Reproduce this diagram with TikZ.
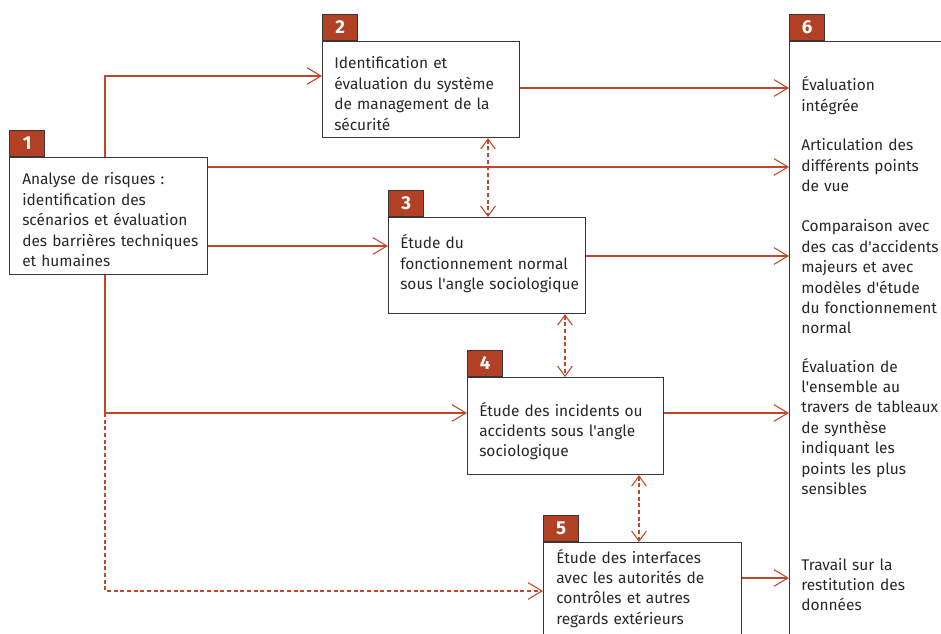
\documentclass[tikz,border=0pt]{standalone}
\usepackage{fontspec}
\setmainfont{Fira Sans}
\usetikzlibrary{arrows.meta,positioning}

\definecolor{tagred}{RGB}{178,64,36}
\definecolor{linered}{RGB}{192,72,42}
\definecolor{boxline}{RGB}{55,55,55}
\definecolor{inktext}{RGB}{40,40,40}

\def\px{0.75pt}
\def\q{\textquotesingle}

\tikzset{
  box/.style={draw=boxline, line width=0.9pt, anchor=north west, inner sep=0pt},
  numtag/.style={draw=boxline, line width=0.9pt, fill=tagred, text=white,
    font=\bfseries\fontsize{14}{14}\selectfont, minimum width=35*\px,
    minimum height=26*\px, inner sep=0pt, anchor=south west},
  txt/.style={anchor=base west, align=left, text width=200*\px, inner sep=0pt,
    text=inktext, font=\fontsize{11.6}{15.3}\selectfont},
  flow/.style={draw=linered, line width=0.8pt,
    -{Straight Barb[length=10.5pt,width=12.5pt]}},
  link/.style={draw=linered, line width=0.8pt, dash pattern=on 3pt off 2pt,
    {Straight Barb[length=7.5pt,width=11pt]}-{Straight Barb[length=7.5pt,width=11pt]}},
}

\begin{document}
\begin{tikzpicture}[x=\px, y=-\px]
        % Fix the frame of the picture
        \useasboundingbox (0,0) rectangle (941,634);
        \clip (0,0) rectangle (941,634);
        \fill[white] (0,0) rectangle (941,634);

        % Draw the boxes
        \node[box, minimum width=198*\px, minimum height=117*\px] (box1) at (9,157) {};
        \node[box, minimum width=197*\px, minimum height=96*\px] (box2) at (322,41) {};
        \node[box, minimum width=197*\px, minimum height=96*\px] (box3) at (388,217) {};
        \node[box, minimum width=196*\px, minimum height=97*\px] (box4) at (467,377) {};
        \node[box, minimum width=198*\px, minimum height=130*\px] (box5) at (543,542) {};
        \node[box, minimum width=300*\px, minimum height=700*\px] (box6) at (789,41) {};

        % Number the boxes
        \node[numtag] (tag1) at (box1.north west) {1};
        \node[numtag] (tag2) at (box2.north west) {2};
        \node[numtag] (tag3) at (box3.north west) {3};
        \node[numtag] (tag4) at (box4.north west) {4};
        \node[numtag] (tag5) at (box5.north west) {5};
        \node[numtag] (tag6) at (box6.north west) {6};

        % Write the texts of the boxes
        \node[txt] (txt1) at ([shift={(13,28)}]box1.north west)
          {Analyse de risques :\\identification des\\sc\'enarios et \'evaluation\\des barri\`eres techniques\\et humaines};
        \node[txt] (txt2) at ([shift={(12,28)}]box2.north west)
          {Identification et\\\'evaluation du syst\`eme\\de management de la\\s\'ecurit\'e};
        \node[txt] (txt3) at ([shift={(12,32)}]box3.north west)
          {\'Etude du\\fonctionnement normal\\sous l\q angle sociologique};
        \node[txt] (txt4) at ([shift={(12,39)}]box4.north west)
          {\'Etude des incidents ou\\accidents sous l\q angle\\sociologique};
        \node[txt] (txt5) at ([shift={(13,21)}]box5.north west)
          {\'Etude des interfaces\\avec les autorit\'es de\\contr\^oles et autres\\regards ext\'erieurs};

        % Write the results in box 6
        \node[txt] (res1) at ([shift={(12,50)}]box6.north west)
          {\'Evaluation\\int\'egr\'ee};
        \node[txt] (res2) at ([shift={(12,110)}]box6.north west)
          {Articulation des\\diff\'erents points\\de vue};
        \node[txt] (res3) at ([shift={(12,191)}]box6.north west)
          {Comparaison avec\\des cas d\q accidents\\majeurs et avec\\mod\`eles d\q\'etude\\du fonctionnement\\normal};
        \node[txt] (res4) at ([shift={(12,331)}]box6.north west)
          {\'Evaluation de\\l\q ensemble au\\travers de tableaux\\de synth\`ese\\indiquant les\\points les plus\\sensibles};
        \node[txt] (res5) at ([shift={(12,529)}]box6.north west)
          {Travail sur la\\restitution des\\donn\'ees};

        % Points where the connectors turn
        \coordinate (up) at (105,76);
        \coordinate (mid) at (105,413);
        \coordinate (bot) at (105,591);
        \coordinate (r0) at (0,88);
        \coordinate (r1) at (0,167);
        \coordinate (r2) at (0,246);
        \coordinate (r3) at (0,256);
        \coordinate (r5) at (0,578);

        % Draw the connectors from box 1
        \draw[flow] (box1.north -| up) -- (up) -- (up -| box2.west);
        \draw[flow] (box1.east |- r1) -- (r1 -| box6.west);
        \draw[flow] (box1.east |- r2) -- (r2 -| box3.west);
        \draw[flow] (box1.south -| mid) -- (mid) -- (mid -| box4.west);
        \draw[flow, dash pattern=on 3pt off 2pt] (mid) -- (bot) -- (bot -| box5.west);

        % Draw the connectors to box 6
        \draw[flow] (box2.east |- r0) -- (r0 -| box6.west);
        \draw[flow] (box3.east |- r3) -- (r3 -| box6.west);
        \draw[flow] (box4.east |- mid) -- (mid -| box6.west);
        \draw[flow] (box5.east |- r5) -- (r5 -| box6.west);

        % Draw the links between the boxes
        \coordinate (d1) at (488,0);
        \coordinate (d2) at (565,0);
        \coordinate (d3) at (639,0);
        \draw[link] (box2.south -| d1) -- (box3.north -| d1);
        \draw[link] (box3.south -| d2) -- (box4.north -| d2);
        \draw[link] (box4.south -| d3) -- (box5.north -| d3);

      \end{tikzpicture}
\end{document}
